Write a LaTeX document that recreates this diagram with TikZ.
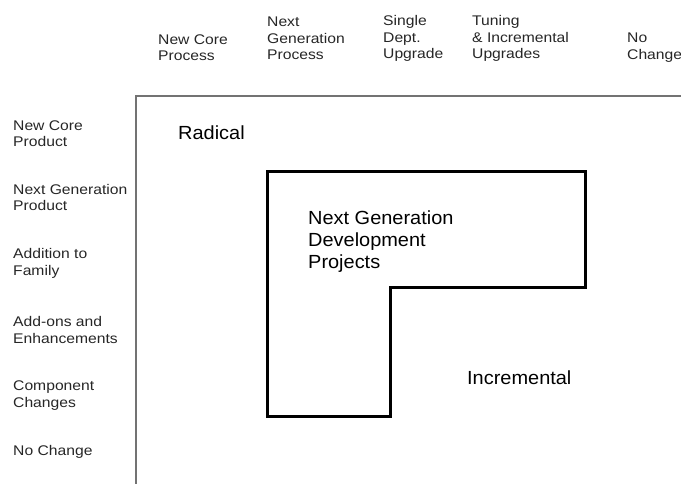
\documentclass[tikz,border=0pt]{standalone}
\usepackage{fontspec}
\setmainfont{Liberation Sans}
\newfontfamily\widesans[FakeStretch=1.12]{Liberation Sans}
\newfontfamily\zonesans[FakeStretch=1.05]{Liberation Sans}
\usepackage{tikz}

\begin{document}
\begin{tikzpicture}[x=1pt,y=-1pt,
    axis/.style={draw=black!55, line width=2pt},
    lbl/.style={anchor=west, align=left, inner sep=0pt, text=black!85,
                font=\widesans\fontsize{14}{16.5}\selectfont},
    zone/.style={anchor=west, align=left, inner sep=0pt,
                font=\zonesans\fontsize{19}{22}\selectfont}]
    \useasboundingbox (0,0) rectangle (681,484);

    % Axes
    \draw[axis] (136,484) -- (136,96) -- (681,96);

    % Process columns
    \node[lbl] (colCore) at (158,47.5) {New Core\\Process};
    \node[lbl] (colNext) at (267,38.5) {Next\\Generation\\Process};
    \node[lbl] (colDept) at (383,38.5) {Single\\Dept.\\Upgrade};
    \node[lbl] (colTune) at (472,38.5) {Tuning\\\& Incremental\\Upgrades};
    \node[lbl] (colNone) at (627,47.5) {No\\Change};

    % Product rows
    \node[lbl] (rowCore) at (13,133.5) {New Core\\Product};
    \node[lbl] (rowNext) at (13,197.5) {Next Generation\\Product};
    \node[lbl] (rowFam)  at (13,263.5) {Addition to\\Family};
    \node[lbl] (rowAdd)  at (13,330) {Add-ons and\\Enhancements};
    \node[lbl] (rowComp) at (13,395.5) {Component\\Changes};
    \node[lbl] (rowNone) at (13,452) {No Change};

    % Next generation region
    \draw[line width=3pt, line join=miter]
        (267,172) -- (585,172) -- (585,288) -- (390,288) -- (390,416) -- (267,416) -- cycle;

    % Zone labels
    \node[zone] (radical) at (178,133) {Radical};
    \node[zone] (nextgen) at (308,242) {Next Generation\\Development\\Projects};
    \node[zone] (increm)  at (467,378) {Incremental};
\end{tikzpicture}
\end{document}
